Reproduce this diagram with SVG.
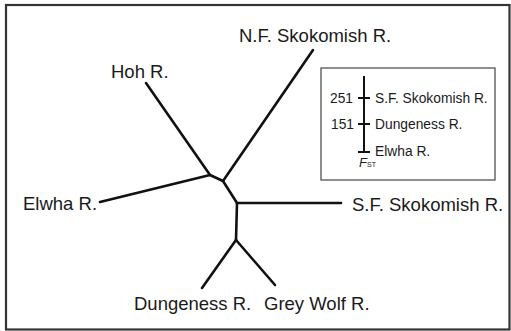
<svg xmlns="http://www.w3.org/2000/svg" width="511" height="331" viewBox="0 0 511 331">
<style>
.t{font-family:"Liberation Sans",Arial,sans-serif;fill:#1a1a1a}
.big{font-size:18.5px}
.sm{font-size:13.8px}
.br{stroke:#111;stroke-width:2.6;fill:none;stroke-linecap:round;stroke-linejoin:round}
</style>
<rect x="0" y="0" width="511" height="331" fill="#fff"/>
<rect x="6" y="5" width="503.5" height="324.5" fill="none" stroke="#333" stroke-width="2.2"/>
<g id="connectors" class="br">
<polyline points="146,83 210,175 223,181 237,203 236,240"/>
<line x1="313" y1="50" x2="223" y2="181"/>
<line x1="100" y1="202" x2="210" y2="175"/>
<line x1="237" y1="203" x2="341" y2="203"/>
<line x1="236" y1="240" x2="202" y2="288"/>
<line x1="236" y1="240" x2="275" y2="285"/>
</g>
<g id="node-nf"><text class="t big" x="239" y="42">N.F. Skokomish R.</text></g>
<g id="node-hoh"><text class="t big" x="111" y="78">Hoh R.</text></g>
<g id="node-elwha"><text class="t big" x="23" y="210">Elwha R.</text></g>
<g id="node-sf"><text class="t big" x="352" y="211">S.F. Skokomish R.</text></g>
<g id="node-dungeness"><text class="t big" x="134" y="310">Dungeness R.</text></g>
<g id="node-greywolf"><text class="t big" x="264" y="310">Grey Wolf R.</text></g>
<g id="legend">
<rect x="321" y="68" width="174" height="112" fill="none" stroke="#444" stroke-width="1.2"/>
<g stroke="#111" stroke-width="2" fill="none">
<line x1="364" y1="76" x2="364" y2="152"/>
<line x1="358" y1="98" x2="370" y2="98"/>
<line x1="358" y1="124" x2="370" y2="124"/>
<line x1="358" y1="152" x2="370" y2="152"/>
</g>
<text class="t sm" x="330" y="103">251</text>
<text class="t sm" x="375" y="103">S.F. Skokomish R.</text>
<text class="t sm" x="331" y="129">151</text>
<text class="t sm" x="375" y="129">Dungeness R.</text>
<text class="t sm" x="375" y="156">Elwha R.</text>
<text class="t" x="359" y="167" font-size="13" font-style="italic">F</text>
<text class="t" x="367" y="167" font-size="7">ST</text>
</g>
</svg>
